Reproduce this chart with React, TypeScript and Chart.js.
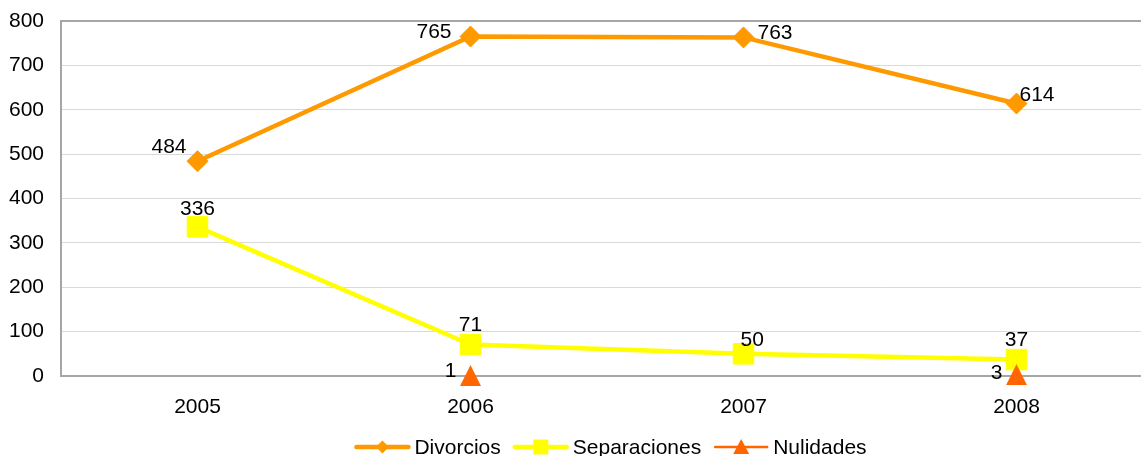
import React, { useEffect, useRef } from "react";
import { Chart, registerables } from "chart.js";

Chart.register(...registerables);

// ---- data ----
const years = ["2005", "2006", "2007", "2008"];
const divorcios = [484, 765, 763, 614];
const separaciones = [336, 71, 50, 37];
const nulidades: (number | null)[] = [null, 1, null, 3];
const seriesNames = ["Divorcios", "Separaciones", "Nulidades"];
const yMin = 0;
const yMax = 800;
const yStep = 100;

// ---- label placement (relative to the point) ----
type Place = { dx: number; dy: number; align: CanvasTextAlign } | null;
const divorciosLabelPos: Place[] = [
  { dx: -11, dy: -14, align: "right" },
  { dx: -19, dy: -4, align: "right" },
  { dx: 14, dy: -4, align: "left" },
  { dx: 3, dy: -8, align: "left" },
];
const separacionesLabelPos: Place[] = [
  { dx: 0, dy: -18, align: "center" },
  { dx: 0, dy: -19, align: "center" },
  { dx: -3, dy: -14, align: "left" },
  { dx: 0, dy: -19, align: "center" },
];
const nulidadesLabelPos: Place[] = [
  null,
  { dx: -14, dy: -4, align: "right" },
  null,
  { dx: -14, dy: -1, align: "right" },
];

const FONT = '"Liberation Sans", Arial, sans-serif';
const ORANGE = "#FF9900";
const YELLOW = "#FFFF00";
const RED = "#FF6600";

function makeTriangle(size: number, color: string) {
  const c = document.createElement("canvas");
  c.width = size;
  c.height = size;
  const g = c.getContext("2d")!;
  g.fillStyle = color;
  g.beginPath();
  g.moveTo(size / 2, 0);
  g.lineTo(size, size);
  g.lineTo(0, size);
  g.closePath();
  g.fill();
  return c;
}

const dataLabelPlugin = {
  id: "dataLabels",
  afterDatasetsDraw(chart: any) {
    const ctx = chart.ctx;
    ctx.save();
    ctx.font = `21px ${FONT}`;
    ctx.fillStyle = "#000";
    ctx.textBaseline = "middle";
    chart.data.datasets.forEach((ds: any, i: number) => {
      const meta = chart.getDatasetMeta(i);
      const places: Place[] = ds.labelPlaces || [];
      meta.data.forEach((pt: any, j: number) => {
        const v = ds.data[j];
        const p = places[j];
        if (v === null || v === undefined || !p) return;
        ctx.textAlign = p.align;
        ctx.fillText(String(v), pt.x + p.dx, pt.y + p.dy);
      });
    });
    ctx.restore();
  },
};

const legendPlugin = {
  id: "customLegend",
  afterDraw(chart: any) {
    const ctx = chart.ctx;
    ctx.save();
    ctx.font = `21px ${FONT}`;
    ctx.textBaseline = "middle";
    const symW = 56;
    const gapText = 4;
    const gapItem = 12;
    const items = chart.data.datasets.map((ds: any) => ({
      ds,
      w: ctx.measureText(ds.label).width,
    }));
    const total =
      items.reduce((s: number, it: any) => s + symW + gapText + it.w, 0) +
      gapItem * (items.length - 1);
    const ca = chart.chartArea;
    let x = (ca.left + ca.right) / 2 + 3.5 - total / 2;
    const y = 447;
    items.forEach((it: any) => {
      const ds = it.ds;
      ctx.strokeStyle = ds.borderColor;
      ctx.lineWidth = ds.legendLineWidth;
      ctx.lineCap = "round";
      ctx.beginPath();
      ctx.moveTo(x + 2, y);
      ctx.lineTo(x + symW - 2, y);
      ctx.stroke();
      const cx = x + symW / 2;
      ctx.fillStyle = ds.backgroundColor;
      ctx.beginPath();
      if (ds.legendMarker === "diamond") {
        ctx.moveTo(cx, y - 6.5);
        ctx.lineTo(cx + 6.5, y);
        ctx.lineTo(cx, y + 6.5);
        ctx.lineTo(cx - 6.5, y);
        ctx.closePath();
        ctx.fill();
      } else if (ds.legendMarker === "square") {
        ctx.rect(cx - 7.5, y - 7.5, 15, 15);
        ctx.fill();
      } else {
        ctx.moveTo(cx, y - 8);
        ctx.lineTo(cx + 8, y + 7);
        ctx.lineTo(cx - 8, y + 7);
        ctx.closePath();
        ctx.fill();
      }
      ctx.fillStyle = "#000";
      ctx.textAlign = "left";
      ctx.fillText(ds.label, x + symW + gapText, y + 1);
      x += symW + gapText + it.w + gapItem;
    });
    ctx.restore();
  },
};

export default function App() {
  const ref = useRef<HTMLCanvasElement | null>(null);

  useEffect(() => {
    if (!ref.current) return;
    const tri = makeTriangle(21, RED);
    const chart = new Chart(ref.current, {
      type: "line",
      data: {
        labels: years,
        datasets: [
          {
            label: seriesNames[0],
            data: divorcios,
            borderColor: ORANGE,
            backgroundColor: ORANGE,
            borderWidth: 4.5,
            pointStyle: "rectRot",
            pointRadius: 10.5,
            pointBorderWidth: 1,
            pointBackgroundColor: ORANGE,
            pointBorderColor: ORANGE,
            tension: 0,
            clip: false,
            order: 2,
            labelPlaces: divorciosLabelPos,
            legendMarker: "diamond",
            legendLineWidth: 4.5,
          } as any,
          {
            label: seriesNames[1],
            data: separaciones,
            borderColor: YELLOW,
            backgroundColor: YELLOW,
            borderWidth: 4.5,
            pointStyle: "rect",
            pointRadius: 14.5,
            pointBorderWidth: 1,
            pointBackgroundColor: YELLOW,
            pointBorderColor: YELLOW,
            tension: 0,
            clip: false,
            order: 1,
            labelPlaces: separacionesLabelPos,
            legendMarker: "square",
            legendLineWidth: 4.5,
          } as any,
          {
            label: seriesNames[2],
            data: nulidades,
            borderColor: RED,
            backgroundColor: RED,
            borderWidth: 2.5,
            pointStyle: tri,
            pointRadius: 10,
            pointBackgroundColor: RED,
            pointBorderColor: RED,
            spanGaps: false,
            tension: 0,
            clip: false,
            order: 0,
            labelPlaces: nulidadesLabelPos,
            legendMarker: "triangle",
            legendLineWidth: 2.5,
          } as any,
        ],
      },
      options: {
        animation: false,
        responsive: false,
        devicePixelRatio: 1,
        layout: { autoPadding: false, padding: { top: 21, left: 0, right: 0, bottom: 52 } },
        plugins: {
          legend: { display: false },
          tooltip: { enabled: false },
        },
        scales: {
          x: {
            type: "category",
            offset: true,
            grid: { display: true, color: "rgba(0,0,0,0)", drawTicks: false },
            border: { display: true, color: "#a6a6a6", width: 2 },
            ticks: {
              color: "#000",
              font: { family: FONT, size: 21 },
              padding: 19,
              maxRotation: 0,
              autoSkip: false,
            },
            afterFit: (s: any) => {
              s.height = 42;
              s.paddingLeft = 0;
              s.paddingRight = 0;
            },
          },
          y: {
            min: yMin,
            max: yMax,
            grid: {
              drawTicks: false,
              color: (c: any) =>
                c.tick && (c.tick.value === yMax || c.tick.value === yMin) ? "#a6a6a6" : "#d9d9d9",
              lineWidth: (c: any) =>
                c.tick && (c.tick.value === yMax || c.tick.value === yMin) ? 2 : 1,
            },
            border: { display: true, color: "#a6a6a6", width: 2 },
            ticks: {
              stepSize: yStep,
              color: "#000",
              font: { family: FONT, size: 21 },
              padding: 17,
            },
            afterFit: (s: any) => {
              s.width = 61;
              s.paddingTop = 0;
              s.paddingBottom = 0;
            },
          },
        },
      },
      plugins: [dataLabelPlugin, legendPlugin],
    });
    return () => chart.destroy();
  }, []);

  return (
    <div
      style={{
        position: "fixed",
        left: 0,
        top: 0,
        width: 1141,
        height: 456,
        overflow: "hidden",
        background: "#fff",
      }}
    >
      <canvas ref={ref} width={1153} height={470} style={{ display: "block", width: 1153, height: 470 }} />
    </div>
  );
}
